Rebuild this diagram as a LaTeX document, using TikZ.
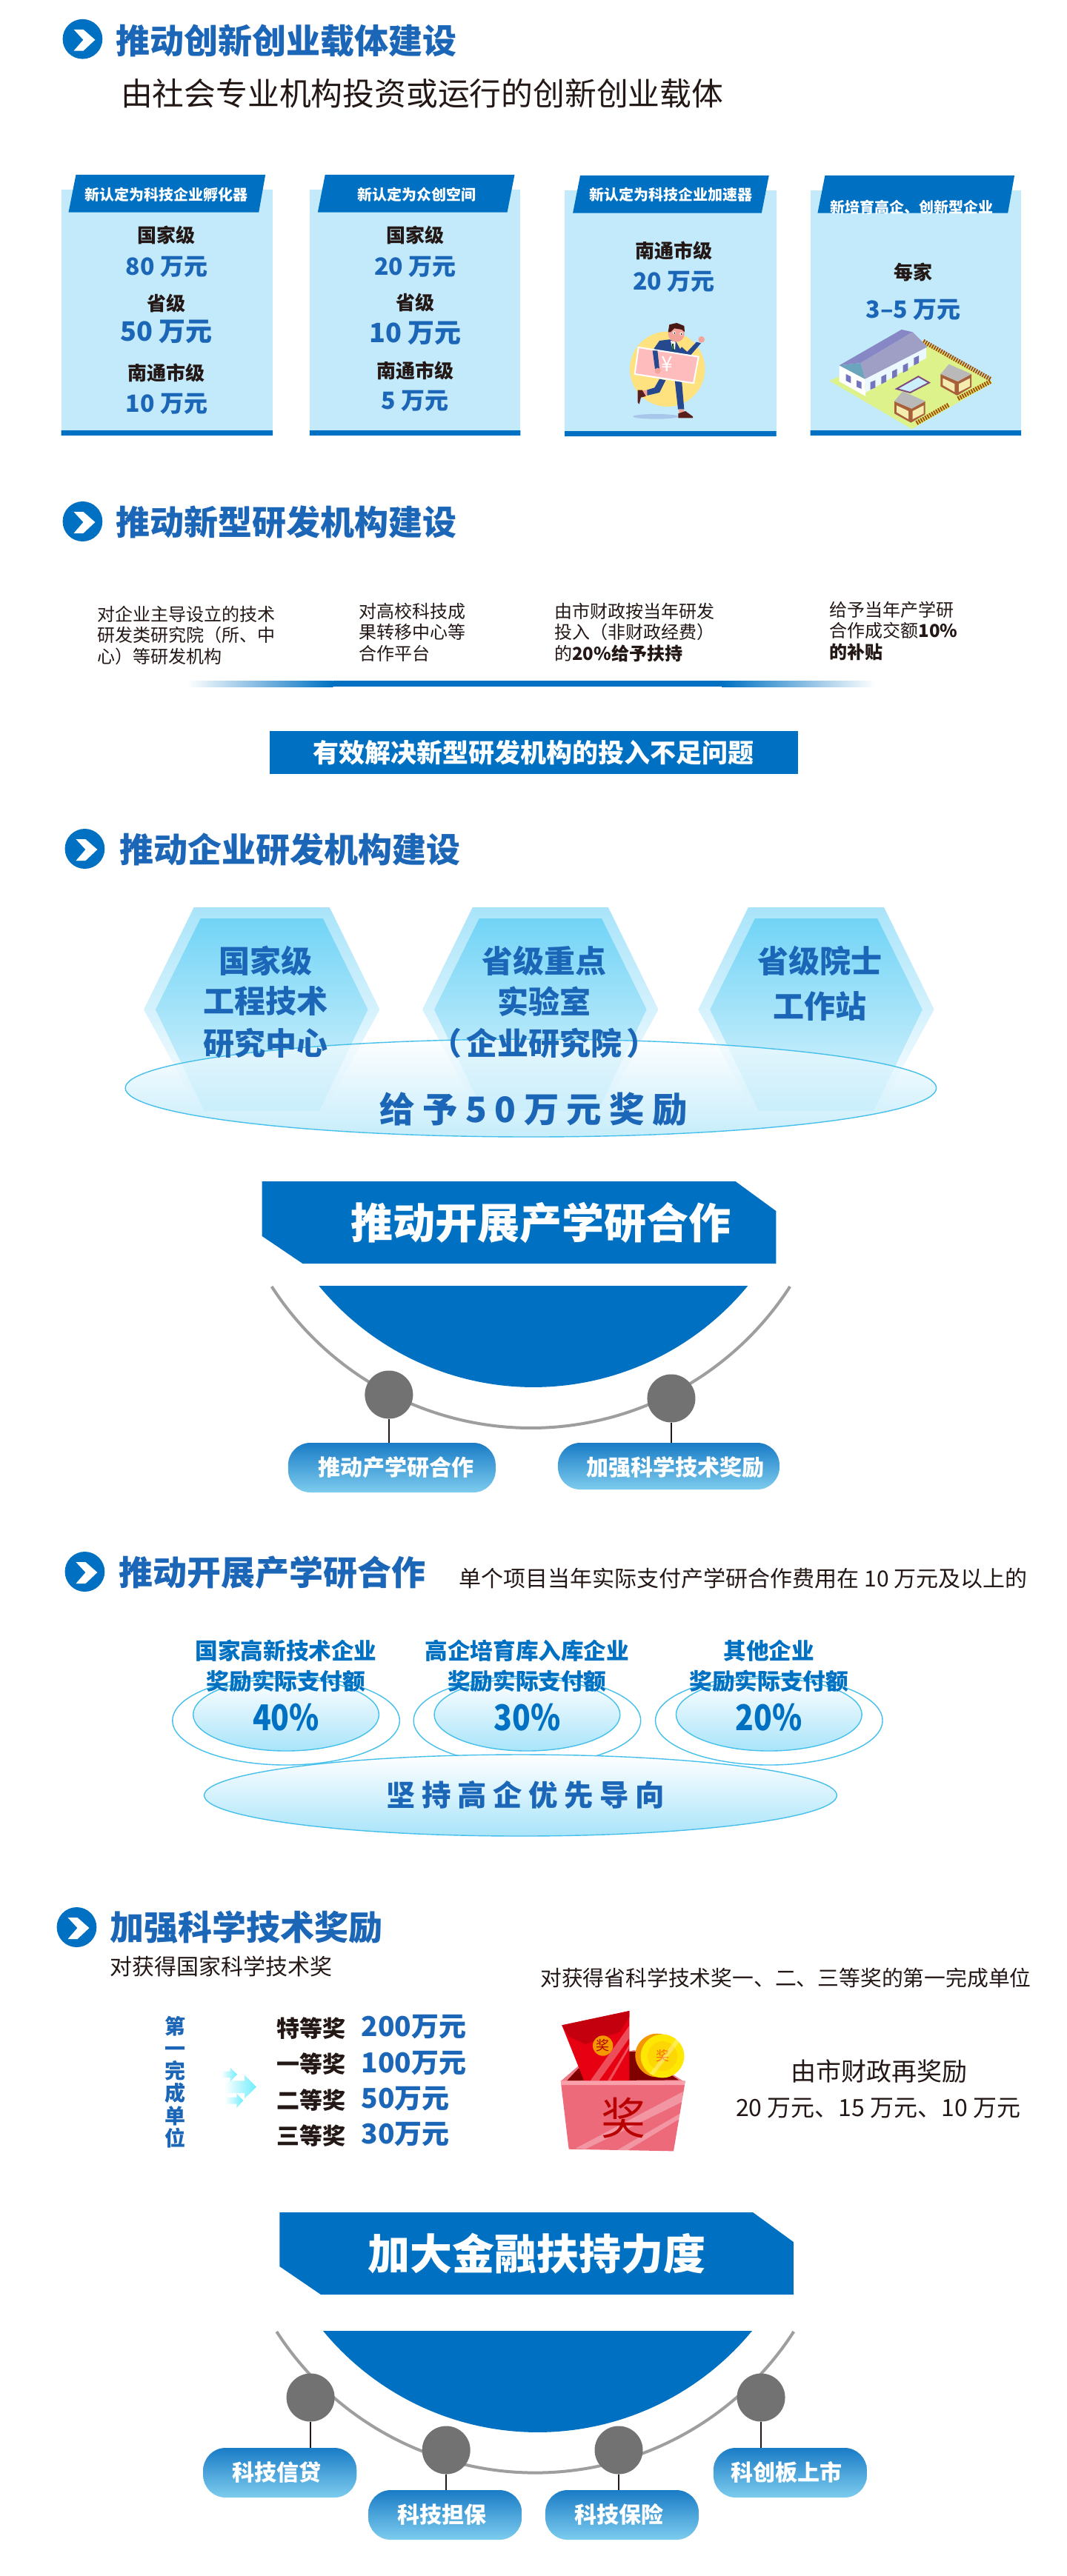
\documentclass[tikz,border=0pt]{standalone}
\usepackage{fontspec}
\setmainfont{Noto Sans CJK SC}
\newfontfamily\widefont[LetterSpace=22]{Noto Sans CJK SC}
\usepackage{tikz}
\usetikzlibrary{shapes.geometric}
\definecolor{brand}{HTML}{0071C2}
\definecolor{titleblue}{HTML}{1C66B8}
\definecolor{cardblue}{HTML}{C2EAFB}
\definecolor{skyline}{HTML}{45BFEC}
\definecolor{skyfill}{HTML}{A9E4FA}
\definecolor{hextop}{HTML}{72D4F6}
\definecolor{hexend}{HTML}{DDF4FD}
\definecolor{ringgray}{HTML}{9E9E9E}
\definecolor{knobgray}{HTML}{737273}
\definecolor{bodytext}{HTML}{231815}
\definecolor{pilltop}{HTML}{1A7CC6}
\definecolor{pillend}{HTML}{7DCCEE}
\definecolor{navy}{HTML}{26488E}
\definecolor{shoe}{HTML}{5B1F1B}
\definecolor{skin}{HTML}{F4A39A}
\definecolor{boxpink}{HTML}{EC6A7A}
\definecolor{boxrim}{HTML}{F9A0AB}
\definecolor{packet}{HTML}{E60012}
\definecolor{packetdark}{HTML}{C4000F}
\definecolor{gold}{HTML}{F39800}
\definecolor{brick}{HTML}{A8603A}
\definecolor{pane}{HTML}{F5EDB0}
\newcommand{\px}[2]{\fontsize{#1}{#2}\selectfont}

\begin{document}
\begin{tikzpicture}[x=.4975pt,y=-.5pt,
	every node/.style={inner sep=0,outer sep=0},
	head/.style={anchor=west,font=\px{23}{23}\bfseries,text=titleblue},
	plain/.style={font=\px{15}{15},text=bodytext},
	note/.style={anchor=north west,align=left,font=\px{12}{14.3},text=bodytext},
	tabtext/.style={font=\px{10}{10}\bfseries,text=white},
	lvl/.style={font=\px{13}{13}\bfseries,text=bodytext},
	amount/.style={font=\px{16}{16}\bfseries,text=titleblue},
	amountbig/.style={font=\px{18}{18}\bfseries,text=titleblue},
	hextext/.style={font=\px{21}{21}\bfseries,text=titleblue},
	rate/.style={font=\px{15.3}{15.3}\bfseries,text=brand},
	pct/.style={font=\px{24}{24}\bfseries,text=brand,xscale=.85,transform shape},
	prize/.style={anchor=west,font=\px{15.5}{15.5}\bfseries,text=bodytext},
	money/.style={anchor=west,font=\px{18.5}{18.5}\bfseries,text=titleblue},
	pilltext/.style={font=\px{15}{15}\bfseries,text=white},
	pill/.style={minimum width=103.5pt,minimum height=33.5pt,rounded corners=15pt,top color=pilltop,bottom color=pillend},
	knob/.style={circle,fill=knobgray,minimum size=32.5pt},
	stem/.style={draw=bodytext,line width=1pt},
	ring/.style={draw=ringgray,line width=2pt},
	plate/.style={draw=skyline,line width=.7pt,top color=white,bottom color=skyfill},
	headmark/.pic={\fill[brand] (0,0) circle[radius=27];
		\fill[white] (-12,-13) -- (1,-13) -- (17,1) -- (1,16) -- (-12,16) -- (1,1) -- cycle;},
	hexplate/.pic={\path[top color=skyfill,bottom color=white] (-92,-138) -- (92,-138) -- (160,0) -- (85,137) -- (-85,137) -- (-160,0) -- cycle;
		\path[top color=hextop,bottom color=hexend] (-83,-123) -- (83,-123) -- (144,0) -- (78,137) -- (-78,137) -- (-144,0) -- cycle;},
	lodge/.pic={\fill[brick] (478,195) -- (548,225) -- (603,195) -- (603,248) -- (545,282) -- (478,245) -- cycle;
		\fill[pane] (487,212) -- (535,235) -- (535,268) -- (487,240) -- cycle (552,235) -- (597,212) -- (597,245) -- (552,268) -- cycle;
		\fill[gray!55!white] (478,195) -- (512,155) -- (603,195) -- (548,225) -- cycle;}]
	\useasboundingbox (0,0) rectangle (1447.2,3478);
	\fill[white] (0,0) rectangle (1447.2,3478);

	% carriers
	\begin{scope}[y=-.4975pt]
	\draw (112,53) pic{headmark};
	\draw (157,55) node[head] (H1) {推动创新创业载体建设};
	\draw (164,127) node[plain,anchor=west,font=\px{21.4}{21.4}] (H1s) {由社会专业机构投资或运行的创新创业载体};

	\fill[cardblue] (83,257) rectangle (370,591);
	\fill[cardblue] (420,257) rectangle (706,591);
	\fill[cardblue] (766,258) rectangle (1053,592);
	\fill[cardblue] (1099,258) rectangle (1385,591);
	\fill[brand] (83,584) rectangle (370,591) (420,584) rectangle (706,591) (766,585) rectangle (1053,592) (1099,584) rectangle (1385,591);
	\fill[brand] (103,237) -- (360,237) -- (351,288) -- (93,288) -- cycle;
	\fill[brand] (441,237) -- (698,237) -- (688,288) -- (431,288) -- cycle;
	\fill[brand] (787,238) -- (1043,238) -- (1033,289) -- (777,289) -- cycle;
	\fill[brand] (1119,238) -- (1376,238) -- (1367,289) -- (1109,289) -- cycle;
	\draw (226,264) node[tabtext] (T1) {新认定为科技企业孵化器};
	\draw (565,264) node[tabtext] (T2) {新认定为众创空间};
	\draw (910,264) node[tabtext] (T3) {新认定为科技企业加速器};
	\draw (1237,281) node[tabtext] (T4) {新培育高企、创新型企业};

	\draw (226,319) node[lvl] (A1) {国家级} (226,362) node[amount] (A2) {80 万元};
	\draw (226,412) node[lvl] (A3) {省级} (226,450) node[amountbig] (A4) {50 万元};
	\draw (226,506) node[lvl] (A5) {南通市级} (226,548) node[amount] (A6) {10 万元};
	\draw (563,319) node[lvl] (B1) {国家级} (563,362) node[amount] (B2) {20 万元};
	\draw (563,411) node[lvl] (B3) {省级} (563,452) node[amountbig] (B4) {10 万元};
	\draw (563,503) node[lvl] (B5) {南通市级} (563,544) node[amount] (B6) {5 万元};
	\draw (914,340) node[lvl] (C1) {南通市级} (914,382) node[amount] (C2) {20 万元};
	\draw (1239,369) node[lvl] (E1) {每家} (1239,420) node[amount] (E2) {3–5 万元};
	\end{scope}

	% runner
	\begin{scope}[x=.16667pt,y=-.16667pt,shift={(420pt,-215pt)}]
	\fill[blue!10!cardblue!85!gray] (135,397) ellipse[x radius=92,y radius=10];
	\fill[orange!45!yellow!50!white] (182,205) circle[radius=152];
	\fill[navy] (150,245) -- (175,250) -- (150,300) -- (100,312) -- (98,290) -- (130,280) -- cycle;
	\fill[navy] (212,250) -- (240,250) -- (250,368) -- (225,368) -- cycle;
	\fill[skin] (228,368) -- (248,368) -- (250,385) -- (230,385) -- cycle;
	\fill[skin] (78,292) -- (100,290) -- (100,312) -- (80,316) -- cycle;
	\fill[shoe] (62,290) -- (80,290) -- (95,315) -- (75,320) -- (68,347) -- (62,340) -- cycle;
	\fill[shoe] (226,385) -- (255,375) -- (285,397) -- (285,403) -- (226,403) -- cycle;
	\fill[navy] (150,90) -- (190,85) -- (215,90) -- (240,135) -- (225,240) -- (160,240) -- (125,170) -- (122,130) -- cycle;
	\fill[navy] (240,115) -- (262,135) -- (300,95) -- (318,100) -- (275,150) -- (250,150) -- (230,130) -- cycle;
	\fill[white] (195,90) -- (215,95) -- (213,125) -- (203,125) -- cycle;
	\draw[line width=1pt,draw=green!30!black] (204,102) -- (206,130);
	\fill[skin] (320,85) circle[radius=13];
	\fill[skin] (218,62) ellipse[x radius=33,y radius=33];
	\fill[shoe!80!black] (185,55) -- (190,25) -- (220,18) -- (250,30) -- (252,55) -- (240,45) -- (210,40) -- (195,55) -- cycle;
	\fill[white] (210,58) circle[radius=6] (238,62) circle[radius=6];
	\fill[black] (211,59) circle[radius=3] (239,63) circle[radius=3];
	\fill[pink!70!red!55,draw=white,line width=1pt] (65,117) -- (308,155) -- (288,262) -- (50,225) -- cycle;
	\draw (180,185) node[font=\px{14}{14},text=white] (Y1) {¥};
	\fill[navy] (122,130) -- (142,130) -- (150,205) -- (132,205) -- cycle;
	\fill[skin] (143,212) circle[radius=12];
	\end{scope}

	% farmstead
	\begin{scope}[x=.16667pt,y=-.16667pt,shift={(555pt,-220pt)}]
	\fill[green!20!yellow!45!white!90!gray] (28,222) -- (410,60) -- (690,230) -- (362,418) -- cycle;
	\draw[line width=3pt,draw=orange!65!black,dash pattern=on 1pt off .7pt] (408,62) -- (680,216) (680,225) -- (548,295) (510,320) -- (378,395);
	\fill[white!92!cyan] (170,215) -- (420,85) -- (420,130) -- (175,270) -- cycle;
	\fill[white] (68,160) -- (170,215) -- (175,285) -- (68,225) -- cycle;
	\fill[blue!35!gray!70!white] (68,160) -- (320,15) -- (365,25) -- (155,150) -- cycle;
	\fill[blue!25!gray!60!white] (155,150) -- (365,25) -- (425,85) -- (172,215) -- cycle;
	\fill[cyan!45!gray] (68,160) -- (155,150) -- (172,215) -- cycle;
	\fill[blue!35!gray!80!white] (194,228) -- (214,220) -- (214,250) -- (194,258) -- cycle (238,206) -- (258,196) -- (258,226) -- (238,236) -- cycle (282,184) -- (302,174) -- (302,204) -- (282,214) -- cycle (326,160) -- (346,150) -- (346,180) -- (326,190) -- cycle (370,130) -- (390,120) -- (390,150) -- (370,160) -- cycle (95,195) -- (115,205) -- (115,232) -- (95,222) -- cycle (138,220) -- (158,228) -- (158,255) -- (138,247) -- cycle;
	\fill[cyan!20!white,draw=violet!40!gray,line width=1pt] (300,255) -- (388,205) -- (432,230) -- (355,270) -- cycle;
	\draw (0,0) pic{lodge};
	\draw (-187,110) pic{lodge};
	\end{scope}

	% new R&D institutes
	\draw (112,704) pic{headmark};
	\draw (157,705) node[head] (H2) {推动新型研发机构建设};
	\draw (132,818) node[note] (N1) {对企业主导设立的技术\\研发类研究院（所、中\\心）等研发机构};
	\draw (487,814) node[note] (N2) {对高校科技成\\果转移中心等\\合作平台};
	\draw (752,814) node[note] (N3) {由市财政按当年研发\\投入（非财政经费）\\的\textbf{20\%给予扶持}};
	\draw (1125,812) node[note] (N4) {给予当年产学研\\合作成交额\textbf{10\%}\\\textbf{的补贴}};
	\path[left color=white,right color=brand] (254,919) rectangle (452,927);
	\fill[brand] (452,919) rectangle (979,927);
	\path[left color=brand,right color=white] (979,919) rectangle (1187,927);
	\draw (724,1016) node[fill=brand,minimum width=356.5pt,minimum height=29pt,font=\px{17.5}{17.5}\bfseries,text=white] (R1) {有效解决新型研发机构的投入不足问题};

	% enterprise R&D
	\draw (115,1146) pic{headmark};
	\draw (162,1147) node[head] (H3) {推动企业研发机构建设};
	\draw (355,1363) pic{hexplate};
	\draw (733,1363) pic{hexplate};
	\draw (1107,1363) pic{hexplate};
	\draw[plate,fill opacity=.65] (720,1469) ellipse[x radius=550,y radius=66];
	\draw (360,1297) node[hextext] (X1) {国家级} (360,1352) node[hextext] (X2) {工程技术} (360,1408) node[hextext] (X3) {研究中心};
	\draw (738,1297) node[hextext] (X4) {省级重点} (738,1352) node[hextext] (X5) {实验室} (738,1408) node[hextext] (X6) {（\hspace{3pt}企业研究院\hspace{3pt}）};
	\draw (1112,1297) node[hextext] (X7) {省级院士} (1112,1359) node[hextext] (X8) {工作站};
	\draw (724,1498) node[font=\widefont\px{23.7}{23.7}\bfseries,text=titleblue] (X9) {给予50万元奖励};

	% cooperation banner
	\begin{scope}[xshift=.75pt]
	\fill[brand] (354,1595) -- (996,1595) -- (1051,1635) -- (1051,1706) -- (409,1706) -- (354,1669) -- cycle;
	\draw (732,1651) node[font=\px{28.5}{28.5}\bfseries,text=white] (K1) {推动开展产学研合作};
	\draw[ring] (367,1737) arc[start angle=147.03,end angle=32.97,radius=419];
	\fill[brand] (431,1736) arc[start angle=140.4,end angle=39.6,radius=377.6] -- cycle;
	\draw (526,1883) node[knob] (D1) {};
	\draw (909,1888) node[knob] (D2) {};
	\draw (530,1981.5) node[pill,minimum width=140pt] (P1) {};
	\draw (905.5,1979.5) node[pill,minimum width=149.5pt,minimum height=31.5pt] (P2) {};
	\draw (536,1981) node[pilltext] (P1t) {推动产学研合作};
	\draw (915,1981) node[pilltext] (P2t) {加强科学技术奖励};
	\draw[stem] (D1) -- (D1 |- P1.north);
	\draw[stem] (D2) -- (D2 |- P2.north);
	\end{scope}

	% cooperation rates
	\draw (115,2122) pic{headmark};
	\draw (161,2123) node[head] (H5) {推动开展产学研合作};
	\draw (623,2131) node[plain,anchor=west] (H5s) {单个项目当年实际支付产学研合作费用在 10 万元及以上的};
	\draw[plate,bottom color=white] (388,2323) ellipse[x radius=154,y radius=60];
	\draw[plate,bottom color=white] (715,2323) ellipse[x radius=154,y radius=60];
	\draw[plate,bottom color=white] (1043,2323) ellipse[x radius=154,y radius=60];
	\draw[plate] (388,2315) ellipse[x radius=126,y radius=49];
	\draw[plate] (715,2315) ellipse[x radius=126,y radius=49];
	\draw[plate] (1043,2315) ellipse[x radius=126,y radius=49];
	\draw[plate] (706,2424) ellipse[x radius=429,y radius=55];
	\draw (388,2229) node[rate] (G1) {国家高新技术企业} (388,2270) node[rate] (G2) {奖励实际支付额} (388,2319) node[pct] (G3) {40\%};
	\draw (715,2229) node[rate] (G4) {高企培育库入库企业} (715,2270) node[rate] (G5) {奖励实际支付额} (715,2319) node[pct] (G6) {30\%};
	\draw (1043,2229) node[rate] (G7) {其他企业} (1043,2270) node[rate] (G8) {奖励实际支付额} (1043,2319) node[pct] (G9) {20\%};
	\draw (713,2423) node[font=\widefont\px{19.7}{19.7}\bfseries,text=titleblue] (G0) {坚持高企优先导向};

	% science awards
	\draw (104,2602) pic{headmark};
	\draw (149,2602) node[head] (H6) {加强科学技术奖励};
	\draw (149,2655) node[plain,anchor=west] (W1) {对获得国家科学技术奖};
	\draw (733,2670) node[plain,anchor=west,font=\px{14.4}{14.4}] (W2) {对获得省科学技术奖一、二、三等奖的第一完成单位};
	\draw (238,2811) node[align=center,font=\px{14}{15.1}\bfseries,text=titleblue] (W3) {第\\一\\完\\成\\单\\位};
	\begin{scope}[x=.16667pt,y=-.16667pt,shift={(140pt,-1385pt)}]
	\path[left color=white,right color=cyan!35!skyfill] (68,118) -- (150,118) -- (150,95) -- (198,143) -- (150,190) -- (150,168) -- (68,168) -- cycle;
	\path[left color=white,right color=cyan!35!skyfill] (55,80) -- (92,80) -- (92,65) -- (120,92) -- (92,122) -- (92,105) -- (55,105) -- cycle;
	\path[left color=white,right color=cyan!35!skyfill] (70,185) -- (118,185) -- (118,170) -- (145,198) -- (118,228) -- (118,212) -- (70,212) -- cycle;
	\end{scope}
	\draw (375,2739) node[prize] (Q1) {特等奖} (490,2737) node[money] (M1) {200万元};
	\draw (375,2787) node[prize] (Q2) {一等奖} (490,2786) node[money] (M2) {100万元};
	\draw (375,2836) node[prize] (Q3) {二等奖} (490,2834) node[money] (M3) {50万元};
	\draw (375,2884) node[prize] (Q4) {三等奖} (490,2882) node[money] (M4) {30万元};

	% prize box
	\begin{scope}[x=.16667pt,y=-.16667pt,shift={(370pt,-1350pt)}]
	\fill[boxpink!90!white] (50,330) -- (125,265) -- (348,203) -- (555,335) -- cycle;
	\fill[red!50!black] (75,328) -- (122,278) -- (170,278) -- (330,210) -- (355,210) -- (528,325) -- cycle;
	\fill[packet] (55,103) -- (328,45) -- (328,328) -- (145,328) -- cycle;
	\fill[packetdark] (55,103) -- (328,45) -- (328,70) -- (290,130) -- (150,180) -- (85,150) -- cycle;
	\fill[white,opacity=.3] (170,328) -- (328,105) -- (328,155) -- (205,328) -- cycle;
	\fill[white,opacity=.3] (240,328) -- (328,180) -- (328,195) -- (252,328) -- cycle;
	\draw (221,186) node[circle,fill=gold,minimum size=13.7pt,font=\px{9}{9},text=red!70!black] (Z1) {奖};
	\fill[gold] (440,225) circle[radius=88];
	\fill[yellow!90!orange] (462,228) circle[radius=88];
	\draw (462,228) node[circle,fill=yellow!75!orange,minimum size=20pt,font=\px{9}{9},text=orange!80!red] (Z2) {奖};
	\fill[white,opacity=.3] (410,300) -- (520,155) -- (535,165) -- (425,305) -- cycle;
	\fill[boxpink] (52,345) -- (552,345) -- (507,613) -- (83,605) -- cycle;
	\fill[boxrim] (50,328) -- (555,328) -- (552,345) -- (52,345) -- cycle;
	\fill[white,opacity=.3] (110,602) -- (545,372) -- (545,412) -- (150,605) -- cycle;
	\fill[white,opacity=.3] (280,608) -- (535,460) -- (535,480) -- (320,610) -- cycle;
	\draw (305,480) node[font=\px{30}{30},text=red!72!black] (Z3) {奖};
	\end{scope}
	\draw (1192,2797) node[plain,font=\px{17}{17}] (Z4) {由市财政再奖励};
	\draw (1191,2847) node[plain,font=\px{16}{16}] (Z5) {20 万元、15 万元、10 万元};

	% finance banner
	\begin{scope}[xshift=.6pt]
	\fill[brand] (378,2987) -- (1020,2987) -- (1075,3027) -- (1075,3098) -- (434,3098) -- (378,3060) -- cycle;
	\draw (727,3043) node[font=\px{28.5}{28.5}\bfseries,text=white] (F0) {加大金融扶持力度};
	\draw[ring] (374,3148) arc[start angle=147.04,end angle=32.96,radius=418];
	\fill[brand] (437,3147) arc[start angle=140.4,end angle=39.6,radius=377.6] -- cycle;
	\draw (420,3237) node[knob] (F1) {} (604,3308) node[knob] (F2) {};
	\draw (838,3308) node[knob] (F3) {} (1031,3237) node[knob] (F4) {};
	\draw (378.5,3338.5) node[pill] (S1) {} (602.5,3395.5) node[pill] (S2) {};
	\draw (842.5,3395.5) node[pill] (S3) {} (1070.5,3338.5) node[pill] (S4) {};
	\draw (374,3338) node[pilltext] (S1t) {科技信贷} (598,3395) node[pilltext] (S2t) {科技担保};
	\draw (838,3395) node[pilltext] (S3t) {科技保险} (1066,3338) node[pilltext] (S4t) {科创板上市};
	\draw[stem] (F1) -- (F1 |- S1.north);
	\draw[stem] (F2) -- (F2 |- S2.north);
	\draw[stem] (F3) -- (F3 |- S3.north);
	\draw[stem] (F4) -- (F4 |- S4.north);
	\end{scope}
\end{tikzpicture}
\end{document}
